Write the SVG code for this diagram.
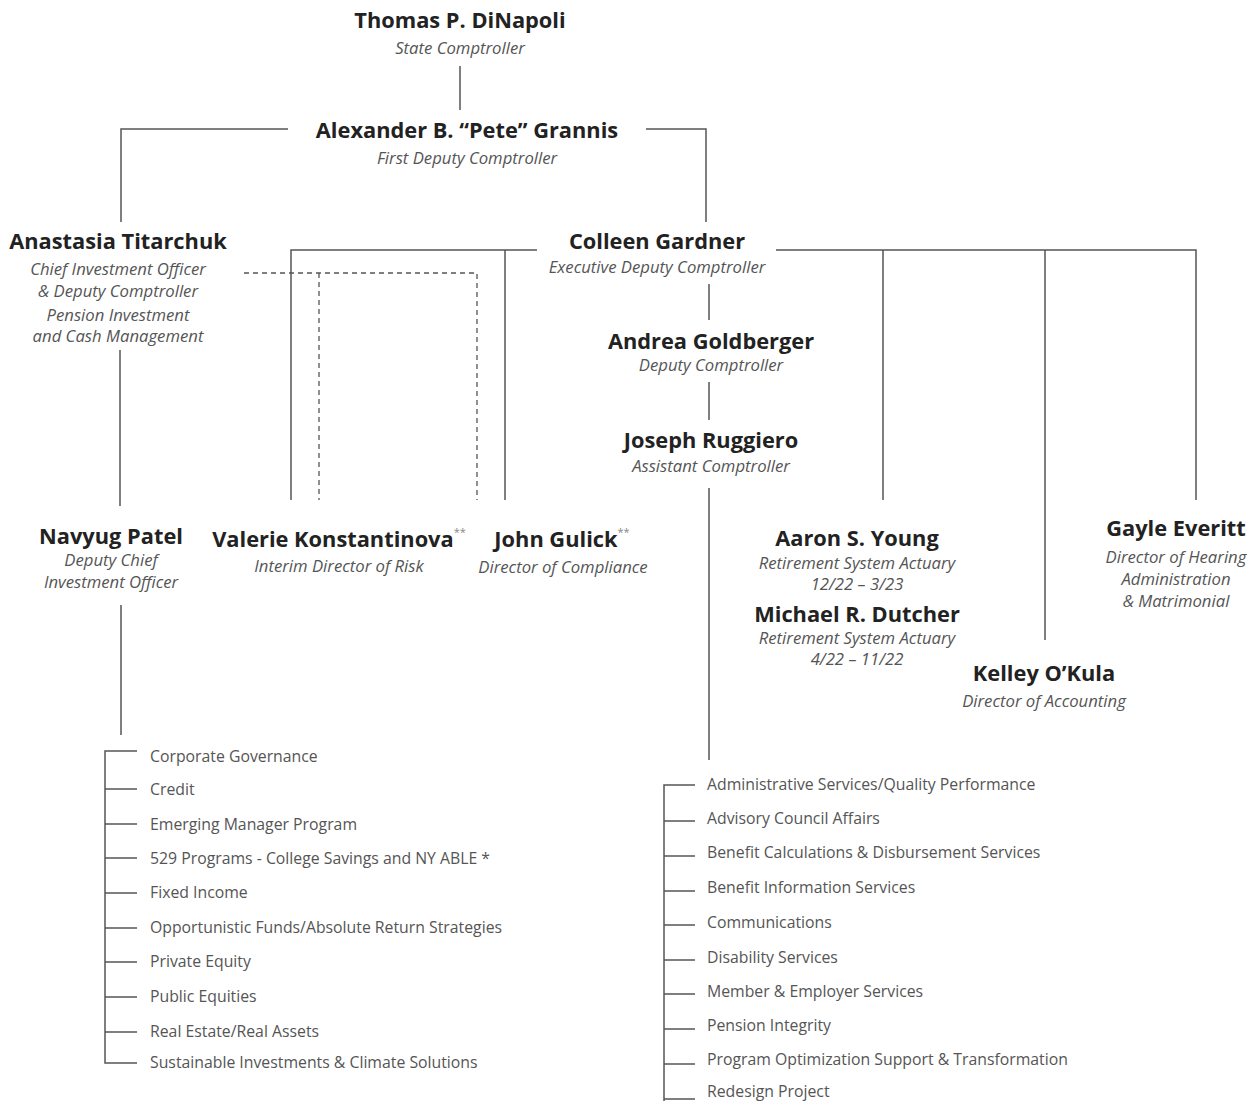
<svg xmlns="http://www.w3.org/2000/svg" width="1257" height="1101" viewBox="0 0 1257 1101">
<style>
.n{font-family:"Open Sans","Liberation Sans",sans-serif;font-weight:700;font-size:21.8px;fill:#222;text-anchor:middle;dominant-baseline:central}
.t{font-family:"Open Sans","Liberation Sans",sans-serif;font-style:italic;font-size:16.7px;fill:#555;text-anchor:middle;dominant-baseline:central}
.i{font-family:"Open Sans","Liberation Sans",sans-serif;font-size:15.8px;fill:#555;dominant-baseline:central}
.s{font-size:11px;fill:#888;font-weight:400}
.l{stroke:#555;stroke-width:1.5;fill:none}
.d{stroke:#555;stroke-width:1.3;fill:none;stroke-dasharray:5,4}
</style>
<rect width="1257" height="1101" fill="#fff"/>
<g id="connectors">
<path class="l" d="M460 66V110"/>
<path class="l" d="M288 129H121V222"/>
<path class="l" d="M646 129H706V222"/>
<path class="l" d="M120 350V506"/>
<path class="l" d="M537 250H291V500M505 250V500"/>
<path class="l" d="M776 250H1196V500M883 250V500M1045 250V640"/>
<path class="l" d="M709 284V320M709 382V420M709 488V760"/>
<path class="d" d="M244 273H477V500M319 273V500"/>
<path class="l" d="M121 605V735"/>
<path class="l" d="M137 751H105V1063H137M105 789H137M105 824H137M105 858H137M105 893H137M105 928H137M105 962H137M105 997H137M105 1032H137"/>
<path class="l" d="M695 785H664V1101M664 821H695M664 856H695M664 891H695M664 925H695M664 960H695M664 994H695M664 1029H695M664 1064H695M664 1099H695"/>
</g>
<g id="dinapoli"><text class="n" x="460" y="19">Thomas P. DiNapoli</text><text class="t" x="460" y="47">State Comptroller</text></g>
<g id="grannis"><text class="n" x="467" y="129">Alexander B. “Pete” Grannis</text><text class="t" x="467" y="157">First Deputy Comptroller</text></g>
<g id="titarchuk"><text class="n" x="118" y="240">Anastasia Titarchuk</text><text class="t" x="118" y="268">Chief Investment Officer</text><text class="t" x="118" y="290">&amp; Deputy Comptroller</text><text class="t" x="118" y="314">Pension Investment</text><text class="t" x="118" y="335">and Cash Management</text></g>
<g id="gardner"><text class="n" x="657" y="240">Colleen Gardner</text><text class="t" x="657" y="266">Executive Deputy Comptroller</text></g>
<g id="goldberger"><text class="n" x="711" y="340">Andrea Goldberger</text><text class="t" x="711" y="364">Deputy Comptroller</text></g>
<g id="ruggiero"><text class="n" x="711" y="439">Joseph Ruggiero</text><text class="t" x="711" y="465">Assistant Comptroller</text></g>
<g id="patel"><text class="n" x="111" y="535">Navyug Patel</text><text class="t" x="111" y="559">Deputy Chief</text><text class="t" x="111" y="581">Investment Officer</text></g>
<g id="konstantinova"><text class="n" x="339" y="538">Valerie Konstantinova<tspan class="s" dy="-7">**</tspan></text><text class="t" x="339" y="565">Interim Director of Risk</text></g>
<g id="gulick"><text class="n" x="562" y="538">John Gulick<tspan class="s" dy="-7">**</tspan></text><text class="t" x="563" y="566">Director of Compliance</text></g>
<g id="young"><text class="n" x="857" y="537">Aaron S. Young</text><text class="t" x="857" y="562">Retirement System Actuary</text><text class="t" x="857" y="583">12/22 – 3/23</text></g>
<g id="dutcher"><text class="n" x="857" y="613">Michael R. Dutcher</text><text class="t" x="857" y="637">Retirement System Actuary</text><text class="t" x="857" y="658">4/22 – 11/22</text></g>
<g id="okula"><text class="n" x="1044" y="672">Kelley O’Kula</text><text class="t" x="1044" y="700">Director of Accounting</text></g>
<g id="everitt"><text class="n" x="1176" y="527">Gayle Everitt</text><text class="t" x="1176" y="556">Director of Hearing</text><text class="t" x="1176" y="578">Administration</text><text class="t" x="1176" y="600">&amp; Matrimonial</text></g>
<g id="investment-units">
<text class="i" x="150" y="756">Corporate Governance</text>
<text class="i" x="150" y="789">Credit</text>
<text class="i" x="150" y="824">Emerging Manager Program</text>
<text class="i" x="150" y="858">529 Programs - College Savings and NY ABLE *</text>
<text class="i" x="150" y="892">Fixed Income</text>
<text class="i" x="150" y="927">Opportunistic Funds/Absolute Return Strategies</text>
<text class="i" x="150" y="961">Private Equity</text>
<text class="i" x="150" y="996">Public Equities</text>
<text class="i" x="150" y="1031">Real Estate/Real Assets</text>
<text class="i" x="150" y="1062">Sustainable Investments &amp; Climate Solutions</text>
</g>
<g id="retirement-units">
<text class="i" x="707" y="784">Administrative Services/Quality Performance</text>
<text class="i" x="707" y="818">Advisory Council Affairs</text>
<text class="i" x="707" y="852">Benefit Calculations &amp; Disbursement Services</text>
<text class="i" x="707" y="887">Benefit Information Services</text>
<text class="i" x="707" y="922">Communications</text>
<text class="i" x="707" y="957">Disability Services</text>
<text class="i" x="707" y="991">Member &amp; Employer Services</text>
<text class="i" x="707" y="1025">Pension Integrity</text>
<text class="i" x="707" y="1059">Program Optimization Support &amp; Transformation</text>
<text class="i" x="707" y="1091">Redesign Project</text>
</g>
</svg>
